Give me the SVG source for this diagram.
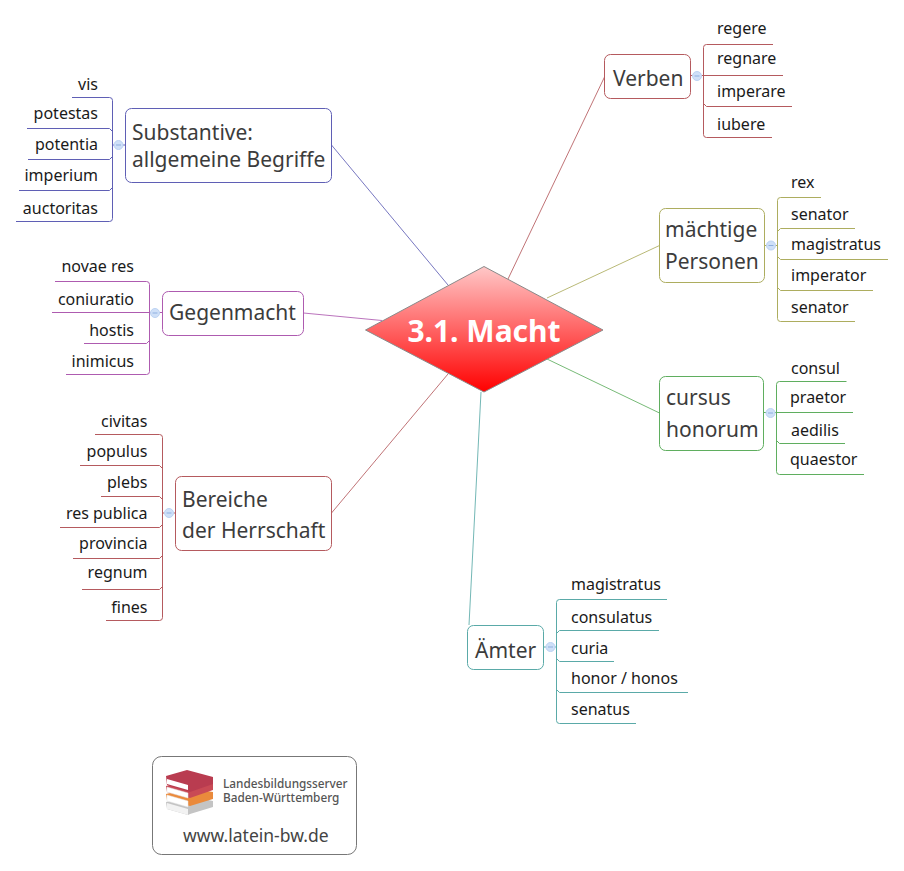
<svg xmlns="http://www.w3.org/2000/svg" width="904" height="871" viewBox="0 0 904 871">
<style>
text{font-family:"Noto Sans","Open Sans","Liberation Sans",sans-serif}
.l{font-size:16px;fill:#1a1a1a;transform:translateY(.6px)}
.e{text-anchor:end}
.n{font-size:21px;fill:#3c3c3c;transform:translateY(.6px)}
.b{fill:#fff;stroke-width:1}
.w{fill:none;stroke-width:1}
.t{fill:#cfe0f8;stroke:#bcd3f3;stroke-width:1}
.m{stroke:#8fb0e0;stroke-width:1}
.c{fill:none;stroke-width:1;stroke-opacity:.85}
.blue{stroke:#5f5fb5}.pur{stroke:#ae5bb0}.red{stroke:#b55a5e}.oli{stroke:#adad5f}.grn{stroke:#5fae5f}.tea{stroke:#5aaaa8}
</style>
<defs>
<linearGradient id="g" x1="0" y1="0" x2="0" y2="1"><stop offset="0" stop-color="#ffc8c8"/><stop offset="1" stop-color="#ff0000"/></linearGradient>
</defs>
<g id="connectors">
<path class="c blue" d="M331.500 145L448 285"/>
<path class="c pur" d="M303.500 313L382 320.500"/>
<path class="c red" d="M331.500 513L448 374"/>
<path class="c red" d="M604.500 77L508 279"/>
<path class="c oli" d="M659.500 245.500L547 298"/>
<path class="c grn" d="M659.500 413L547 359"/>
<path class="c tea" d="M469 625L481 392"/>
</g>
<g id="center"><path d="M484 266.500L603 330L484 392L365.500 330Z" fill="url(#g)" stroke="#8a8a8a" stroke-width="1"/>
<text x="484" y="341.500" text-anchor="middle" font-size="30" font-weight="700" fill="#fff">3.1. Macht</text></g>

<g id="substantive">
<rect class="b blue" x="125.500" y="108.500" width="206" height="74" rx="6"/>
<text class="n" x="132" y="139">Substantive:</text><text class="n" x="132" y="166">allgemeine Begriffe</text>
<path class="w blue" d="M72 97.500H109.500Q112.500 97.500 112.500 100.500V218.500Q112.500 221.500 109.500 221.500H16M27 128.500H109.500L112.500 131.500M28 159.500H109.500L112.500 156.500M19 190.500H109.500L112.500 187.500M113 145H125"/>
<circle class="t" cx="118.500" cy="145" r="4.500"/><path class="m" d="M116 145H121"/>
<text class="l e" x="98" y="89">vis</text><text class="l e" x="98" y="118">potestas</text><text class="l e" x="98" y="149">potentia</text><text class="l e" x="98" y="180">imperium</text><text class="l e" x="98" y="213">auctoritas</text>
</g>

<g id="gegenmacht">
<rect class="b pur" x="162.500" y="291.500" width="141" height="44" rx="6"/>
<text class="n" x="169" y="319">Gegenmacht</text>
<path class="w pur" d="M55 281.500H146.500Q149.500 281.500 149.500 284.500V371.500Q149.500 374.500 146.500 374.500H66M52 312.500H162M84 343.500H146.500L149.500 340.500"/>
<circle class="t" cx="155" cy="313" r="4.500"/><path class="m" d="M152.500 313H157.500"/>
<text class="l e" x="134" y="271">novae res</text><text class="l e" x="134" y="304">coniuratio</text><text class="l e" x="134" y="335">hostis</text><text class="l e" x="134" y="366">inimicus</text>
</g>

<g id="bereiche">
<rect class="b red" x="175.500" y="476.500" width="156" height="74" rx="6"/>
<text class="n" x="182" y="506">Bereiche</text><text class="n" x="182" y="537">der Herrschaft</text>
<path class="w red" d="M95 434.500H159.500Q162.500 434.500 162.500 437.500V617.500Q162.500 620.500 159.500 620.500H106M80 465.500H159.500L162.500 468.500M101 496.500H159.500L162.500 499.500M60 527.500H159.500L162.500 524.500M73 558.500H159.500L162.500 555.500M82 589.500H159.500L162.500 586.500M163 513H175"/>
<circle class="t" cx="169" cy="513" r="4.500"/><path class="m" d="M166.500 513H171.500"/>
<text class="l e" x="147.500" y="426">civitas</text><text class="l e" x="147.500" y="456">populus</text><text class="l e" x="147.500" y="487">plebs</text><text class="l e" x="147.500" y="518">res publica</text><text class="l e" x="147.500" y="548">provincia</text><text class="l e" x="147.500" y="577">regnum</text><text class="l e" x="147.500" y="612">fines</text>
</g>

<g id="verben">
<rect class="b red" x="604.500" y="54.500" width="86" height="44" rx="6"/>
<text class="n" x="613" y="85">Verben</text>
<path class="w red" d="M773 44.500H706.500Q703.500 44.500 703.500 47.500V134.500Q703.500 137.500 706.500 137.500H772M783 75.500H691M792 106.500H706.500L703.500 103.500"/>
<circle class="t" cx="697" cy="76" r="4.500"/><path class="m" d="M694.500 76H699.500"/>
<text class="l" x="717" y="33">regere</text><text class="l" x="717" y="63">regnare</text><text class="l" x="717" y="96">imperare</text><text class="l" x="717" y="129">iubere</text>
</g>

<g id="personen">
<rect class="b oli" x="659.500" y="208.500" width="105" height="74" rx="6"/>
<text class="n" x="665" y="236">mächtige</text><text class="n" x="665" y="268">Personen</text>
<path class="w oli" d="M821 197.500H780.500Q777.500 197.500 777.500 200.500V318.500Q777.500 321.500 780.500 321.500H855M855 228.500H780.500L777.500 231.500M888 259.500H780.500L777.500 256.500M873 290.500H780.500L777.500 287.500M765 245.500H777"/>
<circle class="t" cx="771" cy="245.500" r="4.500"/><path class="m" d="M768.500 245.500H773.500"/>
<text class="l" x="791" y="187">rex</text><text class="l" x="791" y="219">senator</text><text class="l" x="791" y="249">magistratus</text><text class="l" x="791" y="280">imperator</text><text class="l" x="791" y="312">senator</text>
</g>

<g id="cursus">
<rect class="b grn" x="659.500" y="376.500" width="104" height="74" rx="6"/>
<text class="n" x="666" y="404">cursus</text><text class="n" x="666" y="436">honorum</text>
<path class="w grn" d="M846.500 381.500H779.500Q776.500 381.500 776.500 384.500V471.500Q776.500 474.500 779.500 474.500H864M853 412.500H764M845 443.500H779.500L776.500 440.500"/>
<circle class="t" cx="770.500" cy="413" r="4.500"/><path class="m" d="M768 413H773"/>
<text class="l" x="791" y="373">consul</text><text class="l" x="790" y="402">praetor</text><text class="l" x="791" y="435">aedilis</text><text class="l" x="790" y="464">quaestor</text>
</g>

<g id="aemter">
<rect class="b tea" x="467.500" y="625.500" width="76" height="44" rx="6"/>
<text class="n" x="475" y="657">Ämter</text>
<path class="w tea" d="M667 599.500H559.500Q556.500 599.500 556.500 602.500V720.500Q556.500 723.500 559.500 723.500H636M659 630.500H559.500L556.500 633.500M614 661.500H559.500L556.500 658.500M688 692.500H559.500L556.500 689.500M544 647H556"/>
<circle class="t" cx="550.500" cy="647" r="4.500"/><path class="m" d="M548 647H553"/>
<text class="l" x="571" y="589">magistratus</text><text class="l" x="571" y="622">consulatus</text><text class="l" x="571" y="653">curia</text><text class="l" x="571" y="683">honor / honos</text><text class="l" x="571" y="714">senatus</text>
</g>

<g id="logo">
<rect x="152.500" y="756.500" width="204" height="98" rx="9" fill="#fff" stroke="#777"/>
<path d="M166 802L190 796L213 801V807L190 814L188 815L167 809Z" fill="#c4c4c4"/>
<path d="M167 803L188 809V815L167 809Z" fill="#f2f2f2"/>
<path d="M166 794L190 788L213 792V799L190 806L167 800Z" fill="#ea8a3c"/>
<path d="M167 795L188 801V807L167 801Z" fill="#fff" stroke="#e6e6e6" stroke-width=".5"/>
<path d="M166 786L190 780L213 783V790L190 798L167 792Z" fill="#c94a55"/>
<path d="M167 787L188 793V798L167 792Z" fill="#fff" stroke="#e6e6e6" stroke-width=".5"/>
<path d="M166 776L187 770L213 777V784L190 792L167 785Z" fill="#b93c50"/>
<path d="M167 779L188 785V790L167 784Z" fill="#fff"/>
<text font-size="11.800" font-weight="500" fill="#555"><tspan x="223" y="788">Landesbildungsserver</tspan><tspan x="223" y="802">Baden-Württemberg</tspan></text>
<text x="183" y="842" font-size="17.500" fill="#444">www.latein-bw.de</text>
</g>
</svg>
